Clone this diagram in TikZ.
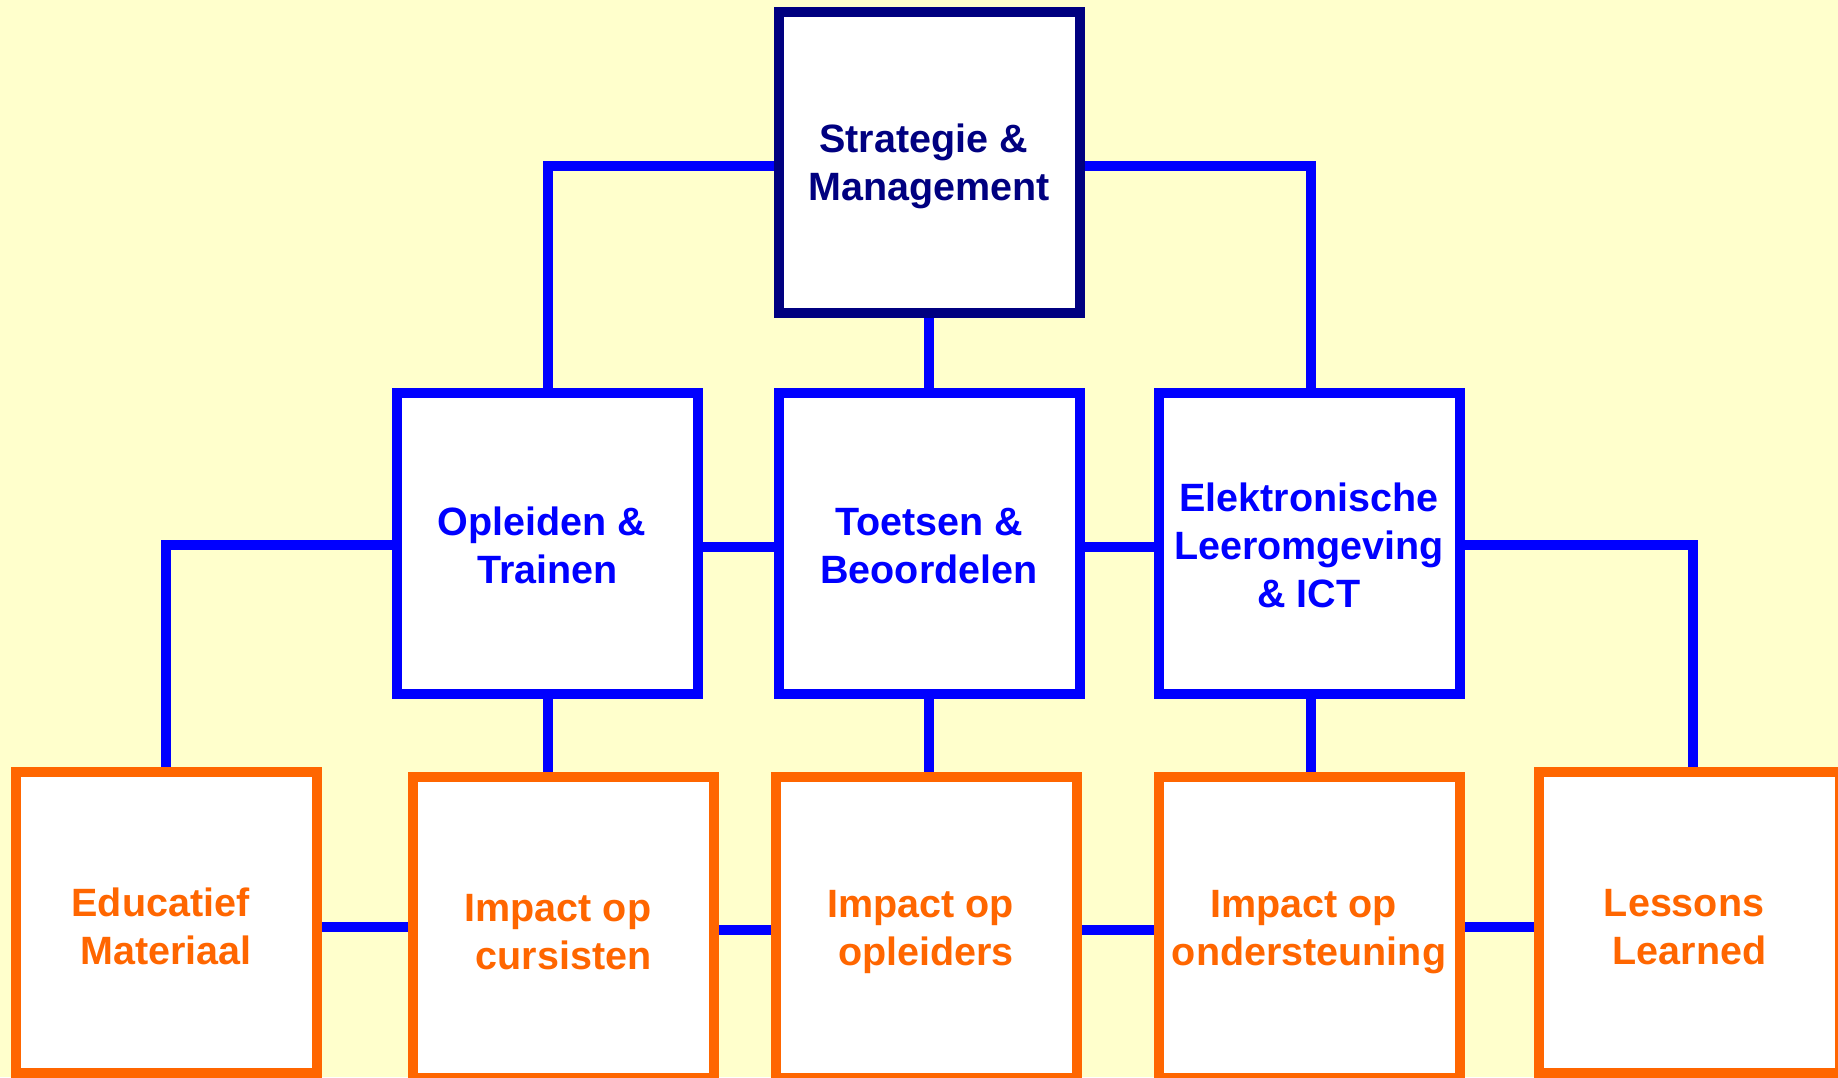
\documentclass[tikz,border=0pt]{standalone}
\usepackage{fontspec}
\setmainfont{Liberation Sans}
\usetikzlibrary{calc}
\pgfdeclarelayer{back}
\pgfsetlayers{back,main}
\definecolor{bgyellow}{HTML}{FFFFCC}
\definecolor{navyc}{HTML}{000080}
\definecolor{pureblue}{HTML}{0000FF}
\definecolor{orng}{HTML}{FF6600}
\newcommand\padhi{\rule{0pt}{37pt}}
\newcommand\padmid{\rule{0pt}{33pt}}
\begin{document}
\begin{tikzpicture}[x=1pt,y=-1pt,
  box/.style={draw, fill=white, line width=10pt, minimum width=301pt, minimum height=301pt,
    inner sep=0pt, align=center, font=\bfseries\fontsize{39.5}{48}\selectfont},
  topbox/.style={box, draw=navyc, text=navyc},
  midbox/.style={box, draw=pureblue, text=pureblue},
  botbox/.style={box, draw=orng, text=orng},
  link/.style={draw=pureblue, line width=10pt}]
\useasboundingbox (0,0) rectangle (1838,1077);
\clip (0,0) rectangle (1838,1077);
\node[topbox] (S) at (929,162) {\padhi Strategie \&\kern0.278em\\Management};
\node[midbox] (O) at (547.5,543) {\padmid Opleiden \&\kern0.278em\\Trainen};
\node[midbox] (T) at (929,543) {\padmid Toetsen \&\\Beoordelen};
\node[midbox] (E) at (1309,543) {\padmid Elektronische\\Leeromgeving\\\& ICT};
\node[botbox] (Edu) at (166,922.5) {\padhi Educatief\kern0.278em\\Materiaal};
\node[botbox] (C) at (563.5,927) {\padhi Impact op\kern0.278em\\cursisten};
\node[botbox] (Op) at (926,927) {\padhi Impact op\kern0.278em\\opleiders};
\node[botbox] (On) at (1309,927) {\padhi Impact op\kern0.278em\\ondersteuning};
\node[botbox] (L) at (1689.5,922.5) {\padhi Lessons\kern0.278em\\Learned};
\begin{pgfonlayer}{back}
\fill[bgyellow] (0,0) rectangle (1838,1077);
\draw[link] ([yshift=-4pt]S.west) -| (O.north);
\draw[link] ([yshift=-4pt]S.east) -| ([xshift=2pt]E.north);
\draw[link] (S.south) -- (T.north);
\draw[link] ([yshift=-2pt]O.west) -| (Edu.north);
\draw[link] ([yshift=-2pt]E.east) -| ([xshift=3pt]L.north);
\draw[link] ([yshift=-4pt]O.east) -- ([yshift=-4pt]T.west);
\draw[link] ([yshift=-4pt]T.east) -- ([yshift=-4pt]E.west);
\draw[link] (O.south) -- (O.south |- C.north);
\draw[link] (T.south) -- (T.south |- Op.north);
\draw[link] ([xshift=2pt]E.south) -- ([xshift=2pt]E.south |- On.north);
\draw[link] (Edu.east |- C.west) -- (C.west);
\draw[link] ([yshift=-3pt]C.east) -- ([yshift=-3pt]Op.west);
\draw[link] ([yshift=-3pt]Op.east) -- ([yshift=-3pt]On.west);
\draw[link] (On.east) -- (On.east -| L.west);
\end{pgfonlayer}
\end{tikzpicture}
\end{document}
